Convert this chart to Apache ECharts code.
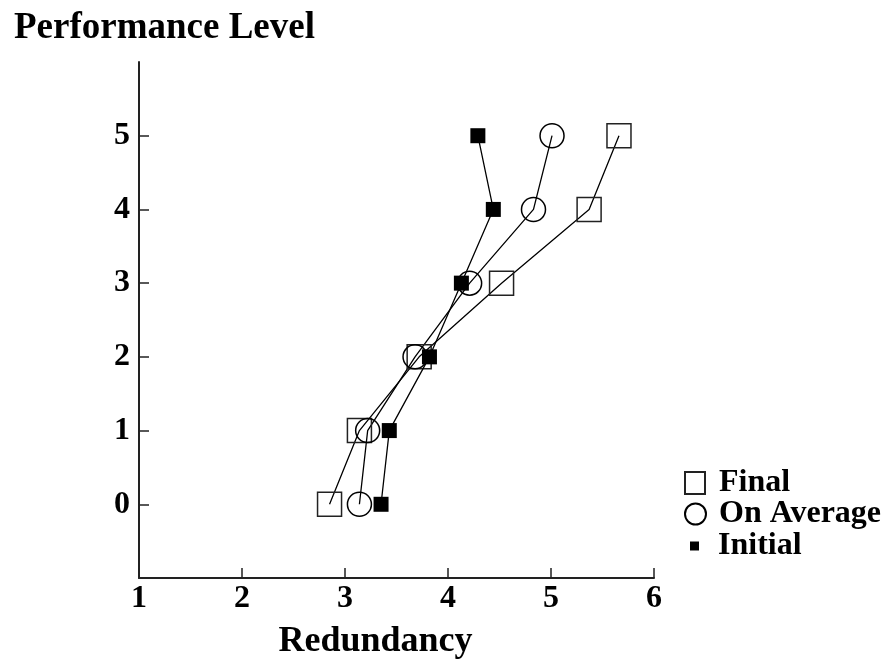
<!DOCTYPE html>
<html>
<head>
<meta charset="utf-8">
<script src="https://cdn.jsdelivr.net/npm/echarts@6/dist/echarts.min.js"></script>
<style>html,body{margin:0;padding:0;background:#fff}#c{width:886px;height:669px}</style>
</head>
<body>
<div id="c"></div>
<script>
const levels = [0, 1, 2, 3, 4, 5];
const finalX = [2.85, 3.14, 3.72, 4.52, 5.37, 5.66];
const averageX = [3.14, 3.22, 3.68, 4.21, 4.83, 5.01];
const initialX = [3.35, 3.43, 3.82, 4.13, 4.44, 4.29];
const xTicks = [1, 2, 3, 4, 5, 6];
const yTicks = [0, 1, 2, 3, 4, 5];
const seriesNames = ['Final', 'On Average', 'Initial'];

const FONT = '"Liberation Serif", "Times New Roman", serif';
const pairs = xs => xs.map((x, i) => [x, levels[i]]);

const chart = echarts.init(document.getElementById('c'), null, {renderer: 'canvas'});
const legendText = {fontFamily: FONT, fontWeight: 'bold', fontSize: 32, color: '#000'};
chart.setOption({
  animation: false,
  backgroundColor: '#fff',
  title: {
    text: 'Performance Level', left: 9, top: 5,
    textStyle: {fontFamily: FONT, fontWeight: 'bold', fontSize: 37, color: '#000'}
  },
  grid: {left: 139, right: 232, top: 62, bottom: 91},
  legend: [
    {data: [seriesNames[0]], orient: 'vertical', left: 679, top: 462, itemWidth: 20, itemHeight: 22,
     icon: 'rect', textStyle: Object.assign({padding: [0, 0, 0, 9]}, legendText), selectedMode: false},
    {data: [seriesNames[1]], orient: 'vertical', left: 679, top: 493, itemWidth: 21, itemHeight: 21,
     icon: 'circle', textStyle: Object.assign({padding: [0, 0, 0, 8]}, legendText), selectedMode: false},
    {data: [seriesNames[2]], orient: 'vertical', left: 685, top: 525, itemWidth: 9, itemHeight: 9,
     icon: 'rect', textStyle: Object.assign({padding: [0, 0, 0, 14]}, legendText), selectedMode: false}
  ],
  xAxis: {
    type: 'value', min: 1, max: 6, interval: 1,
    name: 'Redundancy', nameLocation: 'middle', nameGap: 46,
    nameTextStyle: {fontFamily: FONT, fontWeight: 'bold', fontSize: 36, color: '#000', padding: [0, 42, 0, 0]},
    axisLine: {onZero: false, lineStyle: {color: '#222', width: 2}},
    axisTick: {inside: true, length: 10, lineStyle: {color: '#222', width: 1.5}, customValues: xTicks},
    axisLabel: {fontFamily: FONT, fontWeight: 'bold', fontSize: 32, color: '#000', margin: 5, customValues: xTicks},
    splitLine: {show: false}
  },
  yAxis: {
    type: 'value', min: -1, max: 6, interval: 1,
    axisLine: {show: true, onZero: false, lineStyle: {color: '#222', width: 2}},
    axisTick: {show: true, inside: true, length: 10, lineStyle: {color: '#222', width: 1.5}, customValues: yTicks},
    axisLabel: {fontFamily: FONT, fontWeight: 'bold', fontSize: 32, color: '#000', margin: 9, customValues: yTicks},
    splitLine: {show: false}
  },
  series: [
    {name: seriesNames[0], type: 'line', data: pairs(finalX), symbol: 'rect', symbolSize: 24,
     itemStyle: {color: 'rgba(0,0,0,0)', borderColor: '#222', borderWidth: 1.5},
     lineStyle: {color: '#000', width: 1.3}, z: 3},
    {name: seriesNames[1], type: 'line', data: pairs(averageX), symbol: 'circle', symbolSize: 24,
     itemStyle: {color: 'rgba(0,0,0,0)', borderColor: '#000', borderWidth: 1.5},
     lineStyle: {color: '#000', width: 1.3}, z: 3},
    {name: seriesNames[2], type: 'line', data: pairs(initialX), symbol: 'rect', symbolSize: 15,
     itemStyle: {color: '#000', borderColor: '#000', borderWidth: 0},
     lineStyle: {color: '#000', width: 1.3}, z: 4}
  ]
});
</script>
</body>
</html>
